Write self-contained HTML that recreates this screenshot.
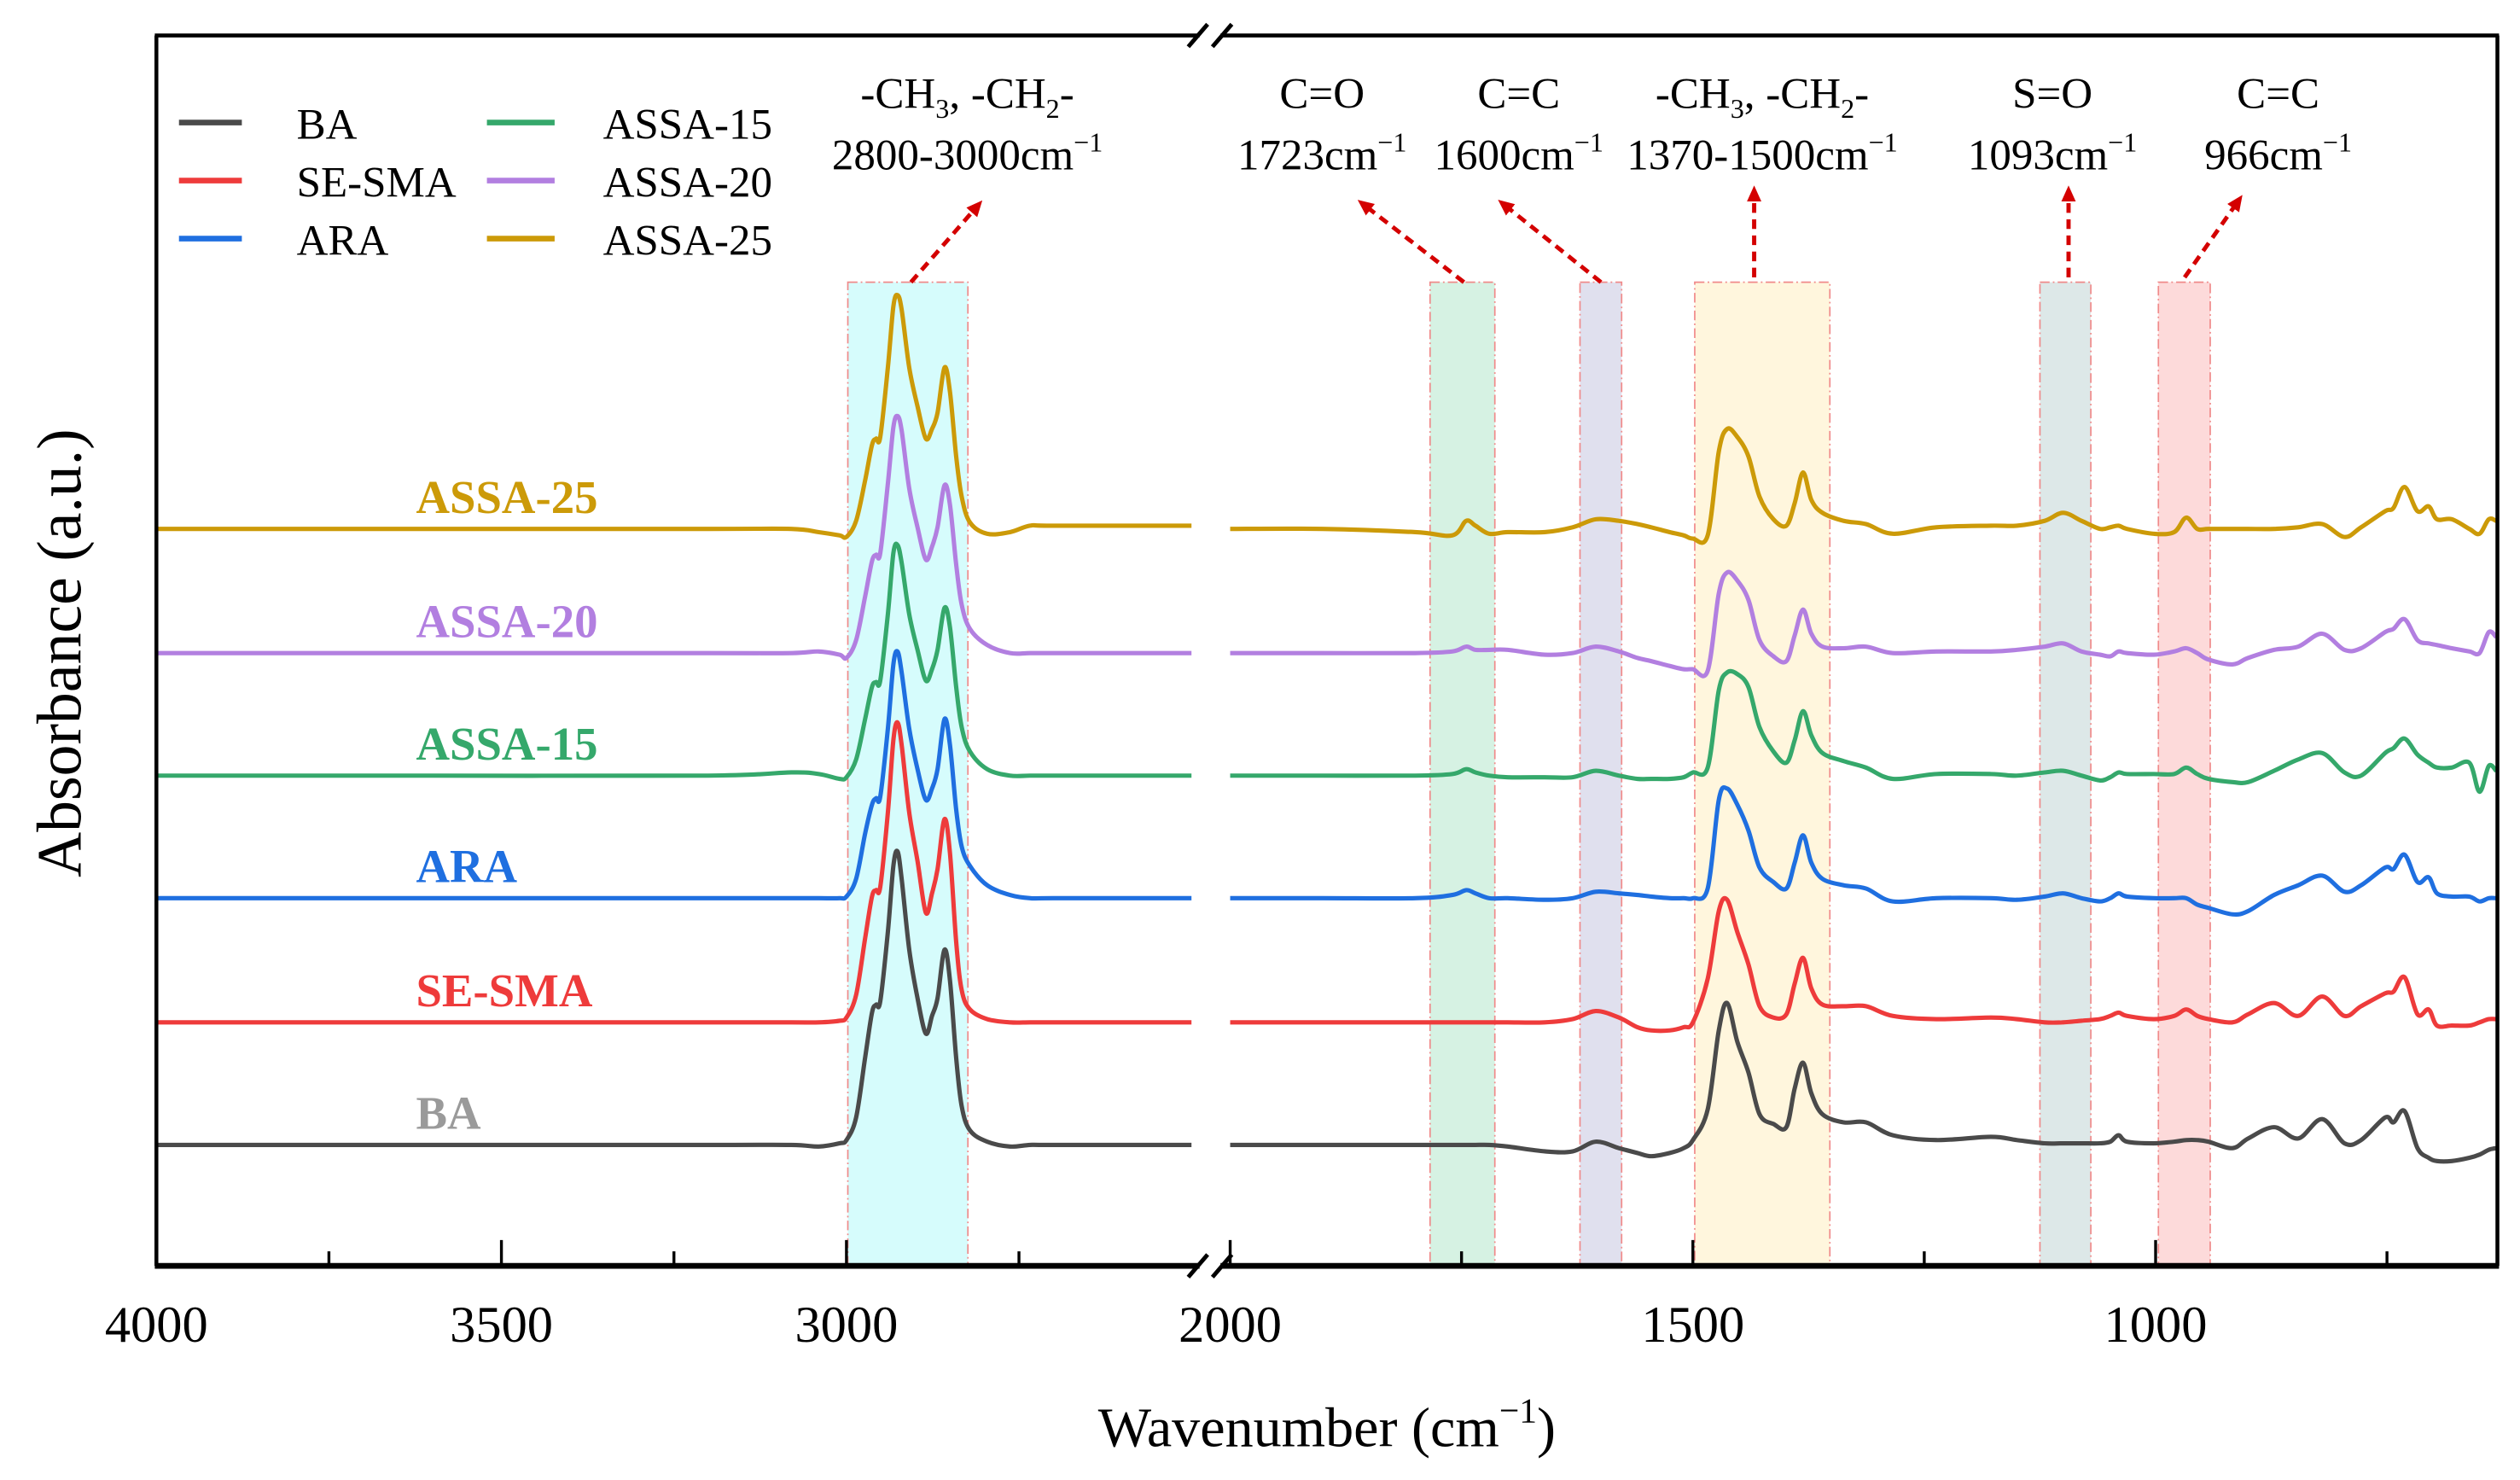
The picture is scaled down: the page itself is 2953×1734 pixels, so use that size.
<!DOCTYPE html>
<html><head><meta charset="utf-8"><title>FTIR spectra</title>
<style>
html,body{margin:0;padding:0;background:#fff;}
svg{display:block;}
text{font-family:"Liberation Serif",serif;}
</style></head>
<body>
<svg id="chart" width="2953" height="1734" viewBox="0 0 1563 917.8" xmlns="http://www.w3.org/2000/svg">
<g id="bands"></g>
<g id="series"></g>
<g id="axes"></g>
</svg>
<script>
// ---------- data ----------
const seriesNames = ["BA","SE-SMA","ARA","ASSA-15","ASSA-20","ASSA-25"];
const seriesColors = ["#4a4a4a","#ee3b3b","#1f6fe0","#35a86b","#b27fe0","#cc9a08"];
const labelColors = ["#9a9a9a","#ee3b3b","#1f6fe0","#35a86b","#b27fe0","#cc9a08"];
const baselines = [0.75,1.51,2.28,3.04,3.80,4.57];

const leftWn = [4000,3600,3200,3080,3040,3010,3000,2986,2973,2963,2957,2951,2940,2932,2926,2920,2909,2897,2885,2876,2868,2858,2850,2841,2833,2821,2796,2763,2734,2700,2500];
const leftBA    = [0,0,0,0,-0.01,0.01,0.03,0.17,0.54,0.82,0.87,0.89,1.32,1.73,1.82,1.65,1.21,0.91,0.69,0.80,0.91,1.21,1.02,0.54,0.24,0.09,0.02,-0.01,0,0,0];
const leftSESMA = [0,0,0,0,0,0.01,0.03,0.17,0.52,0.78,0.82,0.84,1.30,1.75,1.86,1.72,1.30,1.00,0.68,0.80,0.95,1.26,1.05,0.50,0.20,0.08,0.02,0,0,0,0];
const leftARA   = [0,0,0,0,0,0,0.01,0.12,0.40,0.58,0.62,0.63,1.05,1.45,1.53,1.40,1.05,0.80,0.61,0.68,0.80,1.11,0.95,0.55,0.32,0.20,0.08,0.02,0,0,0];
const leftA15   = [0,0,0,0.02,0.01,-0.02,-0.01,0.10,0.35,0.55,0.58,0.59,1.00,1.38,1.43,1.32,1.00,0.78,0.59,0.66,0.78,1.04,0.92,0.55,0.30,0.15,0.04,0,0,0,0];
const leftA20   = [0,0,0,0,0.01,-0.01,-0.03,0.08,0.35,0.57,0.61,0.62,1.05,1.40,1.47,1.38,1.02,0.78,0.58,0.66,0.78,1.04,0.92,0.55,0.30,0.15,0.05,0,0,0,0];
const leftA25   = [0,0,0,0,-0.02,-0.04,-0.05,0.05,0.30,0.52,0.56,0.57,1.00,1.38,1.45,1.36,1.00,0.76,0.56,0.62,0.72,1.00,0.85,0.45,0.20,0.04,-0.03,-0.02,0.02,0.02,0.02];

const rightWn = [2000,1900,1800,1760,1745,1735,1720,1700,1660,1630,1605,1580,1560,1545,1525,1510,1500,1484,1472,1463,1452,1440,1428,1413,1399,1390,1381,1372,1360,1337,1313,1284,1237,1178,1150,1120,1100,1080,1060,1049,1040,1031,1002,980,967,955,943,917,900,872,846,820,796,778,752,743,731,717,705,696,680,661,650,640,632];
const rightBA    = [0,0,0,0,0,0,0,-0.01,-0.04,-0.04,0.02,-0.02,-0.05,-0.07,-0.05,-0.02,0.03,0.22,0.71,0.88,0.64,0.45,0.19,0.13,0.11,0.35,0.51,0.32,0.19,0.14,0.14,0.06,0.03,0.05,0.03,0.01,0.01,0.01,0.01,0.02,0.06,0.02,0.01,0.02,0.03,0.03,0.02,-0.02,0.04,0.11,0.04,0.16,0.01,0.03,0.17,0.14,0.21,-0.02,-0.08,-0.10,-0.10,-0.08,-0.06,-0.03,-0.02];
const rightSESMA = [0,0,0,0,0,0,0,0,0,0.02,0.07,0.03,-0.03,-0.05,-0.05,-0.03,0,0.27,0.69,0.76,0.56,0.36,0.10,0.03,0.05,0.24,0.40,0.21,0.11,0.10,0.10,0.04,0.02,0.03,0.02,0,0,0.01,0.02,0.04,0.06,0.04,0.02,0.04,0.08,0.04,0.02,0,0.05,0.12,0.04,0.16,0.04,0.10,0.18,0.19,0.28,0.05,0.08,-0.02,-0.02,-0.02,0,0.02,0.02];
const rightARA   = [0,0,0,0.02,0.05,0.03,0,0,-0.01,0,0.04,0.03,0.02,0.01,0,0,0,0.06,0.61,0.68,0.58,0.42,0.19,0.10,0.06,0.22,0.39,0.22,0.12,0.08,0.06,-0.02,0,0,-0.01,0.01,0.03,0,-0.02,0,0.03,0.01,0,0,0,-0.04,-0.06,-0.10,-0.08,0.02,0.08,0.14,0.04,0.08,0.19,0.18,0.27,0.10,0.13,0.03,0.01,0.01,-0.02,0,0];
const rightA15   = [0,0,0,0.01,0.04,0.02,0,-0.01,-0.01,-0.01,0.03,0,-0.02,-0.02,-0.02,-0.01,0.02,0.05,0.53,0.64,0.63,0.55,0.30,0.15,0.08,0.22,0.40,0.25,0.14,0.09,0.05,-0.02,0.01,0.01,0,0.02,0.03,0,-0.03,-0.01,0.02,0.01,0.01,0.01,0.05,0.01,-0.02,-0.04,-0.04,0.03,0.10,0.14,0.02,0,0.14,0.17,0.23,0.13,0.08,0.05,0.05,0.08,-0.10,0.06,0.03];
const rightA20   = [0,0,0,0.01,0.04,0.02,0.02,0.02,-0.01,0,0.04,0.01,-0.03,-0.05,-0.08,-0.10,-0.10,-0.11,0.37,0.50,0.45,0.33,0.08,-0.02,-0.05,0.11,0.27,0.12,0.04,0.03,0.04,0,0.01,0.01,0.02,0.04,0.06,0.01,-0.01,-0.02,0.01,0,-0.01,0.01,0.03,0,-0.04,-0.07,-0.03,0.02,0.04,0.12,0.02,0.03,0.13,0.15,0.21,0.08,0.06,0.05,0.03,0.01,0,0.13,0.10];
const rightA25   = [0,0,-0.02,-0.04,0.05,0.02,-0.03,-0.02,-0.02,0.01,0.06,0.05,0.03,0.01,-0.02,-0.04,-0.06,-0.04,0.48,0.62,0.57,0.45,0.20,0.06,0.02,0.16,0.35,0.18,0.10,0.05,0.03,-0.03,0.01,0.02,0.02,0.05,0.10,0.05,0,0.01,0.02,0,-0.03,-0.02,0.07,0,0,0,0,0,0.01,0.03,-0.05,0.01,0.11,0.13,0.26,0.11,0.14,0.06,0.06,0,-0.03,0.06,0.05];

const leftSeries  = [leftBA,leftSESMA,leftARA,leftA15,leftA20,leftA25];
const rightSeries = [rightBA,rightSESMA,rightARA,rightA15,rightA20,rightA25];

const bandFrom = [2998,1784,1622,1498,1125,997];
const bandTo   = [2824,1714,1577,1352,1070,941];
const bandNames = ["ch-stretch-band","co-band","cc-1600-band","ch-bend-band","so-band","cc-966-band"];

const leftTicks = [4000,3500,3000];
const leftMinor = [3750,3250,2750];
const rightTicks = [2000,1500,1000];
const rightMinor = [1750,1250,750];

// ---------- scales ----------
const PL=97, PR=1549, PT=22, PB=785, BR_R=763;
function xL(w){ return PL + (4000-w)*0.428; }
function xR(w){ return BR_R + (2000-w)*0.574; }
function yS(v){ return PB - v*100; }
const NS="http://www.w3.org/2000/svg";
function mk(tag, attrs, parent){
  const e=document.createElementNS(NS,tag);
  for(const k in attrs) e.setAttribute(k,attrs[k]);
  parent.appendChild(e); return e;
}
function smoothPath(pts){
  let d="M"+pts[0][0].toFixed(2)+","+pts[0][1].toFixed(2);
  for(let i=0;i<pts.length-1;i++){
    const p0=pts[Math.max(0,i-1)],p1=pts[i],p2=pts[i+1],p3=pts[Math.min(pts.length-1,i+2)];
    const c1x=p1[0]+(p2[0]-p0[0])/6,c1y=p1[1]+(p2[1]-p0[1])/6;
    const c2x=p2[0]-(p3[0]-p1[0])/6,c2y=p2[1]-(p3[1]-p1[1])/6;
    d+=" C"+c1x.toFixed(2)+","+c1y.toFixed(2)+" "+c2x.toFixed(2)+","+c2y.toFixed(2)+" "+p2[0].toFixed(2)+","+p2[1].toFixed(2);
  }
  return d;
}

// ---------- bands ----------
const gB=document.getElementById('bands');
const bandFill=["#d6fcfc","#d6f2e3","#e0e0ee","#fff6dd","#dde8e8","#fddada"];
for(let i=0;i<bandFrom.length;i++){
  const f = i===0 ? xL : xR;
  const x1=f(bandFrom[i]), x2=f(bandTo[i]);
  const r=mk('rect',{x:x1,y:175,width:x2-x1,height:PB-175,fill:bandFill[i],stroke:"#f08a8a","stroke-width":0.9,"stroke-dasharray":"6,2,1,2"},gB);
  
  
}

// ---------- series ----------
const gS=document.getElementById('series');
for(let s=0;s<seriesNames.length;s++){
  const lp=leftWn.map((w,i)=>[xL(w), yS(baselines[s]+leftSeries[s][i])]);
  const rp=rightWn.map((w,i)=>[xR(w), yS(baselines[s]+rightSeries[s][i])]);
  const l=mk('path',{d:smoothPath(lp),fill:"none",stroke:seriesColors[s],"stroke-width":2.7,"stroke-linejoin":"round"},gS);
  
  
  const r=mk('path',{d:smoothPath(rp),fill:"none",stroke:seriesColors[s],"stroke-width":2.7,"stroke-linejoin":"round"},gS);
  
  
  const t=mk('text',{x:258,y:yS(baselines[s])-10,"font-size":29,"font-weight":"bold",fill:labelColors[s]},gS);
  t.textContent=seriesNames[s];
  
  
}

// ---------- axes ----------
const gA=document.getElementById('axes');
mk('line',{x1:PL,y1:PT,x2:PL,y2:PB,stroke:"#000","stroke-width":2.4},gA);
mk('line',{x1:PR,y1:PT,x2:PR,y2:PB,stroke:"#000","stroke-width":2.4},gA);
mk('line',{x1:PL-1,y1:PT,x2:744,y2:PT,stroke:"#000","stroke-width":2.4},gA);
mk('line',{x1:757,y1:PT,x2:PR+1,y2:PT,stroke:"#000","stroke-width":2.4},gA);
mk('line',{x1:PL-1,y1:PB,x2:744,y2:PB,stroke:"#000","stroke-width":3.6},gA);
mk('line',{x1:757,y1:PB,x2:PR+1,y2:PB,stroke:"#000","stroke-width":3.6},gA);
[PT,PB].forEach(yy=>{
  mk('line',{x1:737,y1:yy+7,x2:749,y2:yy-7,stroke:"#000","stroke-width":2.6},gA);
  mk('line',{x1:752,y1:yy+7,x2:764,y2:yy-7,stroke:"#000","stroke-width":2.6},gA);
});
function tick(x,len,label){
  mk('line',{x1:x,y1:PB,x2:x,y2:PB-len,stroke:"#000","stroke-width":1.8},gA);
  if(label!==null){
    const t=mk('text',{x:x,y:832,"font-size":32,"text-anchor":"middle",fill:"#000"},gA);
    t.textContent=label;
    
    
  }
}
leftTicks.forEach(w=>tick(xL(w),16,String(w)));
leftMinor.forEach(w=>tick(xL(w),9,null));
rightTicks.forEach(w=>tick(xR(w),16,String(w)));
rightMinor.forEach(w=>tick(xR(w),9,null));
</script>
<svg style="position:absolute;left:0;top:0" width="2953" height="1734" viewBox="0 0 1563 917.8" xmlns="http://www.w3.org/2000/svg">
<defs><marker id="ah" markerWidth="10" markerHeight="10" refX="5" refY="4.5" orient="auto" markerUnits="userSpaceOnUse"><path d="M0,0 L10,4.5 L0,9 Z" fill="#d40000"/></marker></defs>
<text x="823" y="897" font-size="35" text-anchor="middle">Wavenumber (cm<tspan font-size="22" dy="-15">−1</tspan><tspan dy="15">)</tspan></text>
<text transform="translate(50,405) rotate(-90)" font-size="39" text-anchor="middle">Absorbance (a.u.)</text>

<g font-size="27" text-anchor="middle">
<text x="600" y="67">-CH<tspan font-size="17" dy="6">3</tspan><tspan dy="-6">, -CH</tspan><tspan font-size="17" dy="6">2</tspan><tspan dy="-6">-</tspan></text>
<text x="600" y="105">2800-3000cm<tspan font-size="17" dy="-11">−1</tspan></text>
</g>
<g font-size="27" text-anchor="middle">
<text x="820" y="67">C=O</text><text x="820" y="105">1723cm<tspan font-size="17" dy="-11">−1</tspan></text></g>
<g font-size="27" text-anchor="middle">
<text x="942" y="67">C=C</text><text x="942" y="105">1600cm<tspan font-size="17" dy="-11">−1</tspan></text></g>
<g font-size="27" text-anchor="middle">
<text x="1093" y="67">-CH<tspan font-size="17" dy="6">3</tspan><tspan dy="-6">, -CH</tspan><tspan font-size="17" dy="6">2</tspan><tspan dy="-6">-</tspan></text>
<text x="1093" y="105">1370-1500cm<tspan font-size="17" dy="-11">−1</tspan></text></g>
<g font-size="27" text-anchor="middle">
<text x="1273" y="67">S=O</text><text x="1273" y="105">1093cm<tspan font-size="17" dy="-11">−1</tspan></text></g>
<g font-size="27" text-anchor="middle">
<text x="1413" y="67">C=C</text><text x="1413" y="105">966cm<tspan font-size="17" dy="-11">−1</tspan></text></g>

<g stroke="#d40000" stroke-width="2.6" stroke-dasharray="6,4" fill="none" marker-end="url(#ah)">
<line x1="565" y1="175" x2="606" y2="128"/>
<line x1="908" y1="175" x2="846" y2="127"/>
<line x1="993" y1="175" x2="933" y2="127"/>
<line x1="1088" y1="172" x2="1088" y2="120"/>
<line x1="1283" y1="172" x2="1283" y2="120"/>
<line x1="1355" y1="172" x2="1388" y2="125"/>
</g>

<g font-size="27">
<g><line x1="111" y1="76" x2="150" y2="76" stroke="#4a4a4a" stroke-width="3.5"/><text x="184" y="86">BA</text></g>
<g><line x1="111" y1="112" x2="150" y2="112" stroke="#ee3b3b" stroke-width="3.5"/><text x="184" y="122">SE-SMA</text></g>
<g><line x1="111" y1="148" x2="150" y2="148" stroke="#1f6fe0" stroke-width="3.5"/><text x="184" y="158">ARA</text></g>
<g><line x1="302" y1="76" x2="344" y2="76" stroke="#35a86b" stroke-width="3.5"/><text x="374" y="86">ASSA-15</text></g>
<g><line x1="302" y1="112" x2="344" y2="112" stroke="#b27fe0" stroke-width="3.5"/><text x="374" y="122">ASSA-20</text></g>
<g><line x1="302" y1="148" x2="344" y2="148" stroke="#cc9a08" stroke-width="3.5"/><text x="374" y="158">ASSA-25</text></g>
</g>
</svg>
</body></html>
